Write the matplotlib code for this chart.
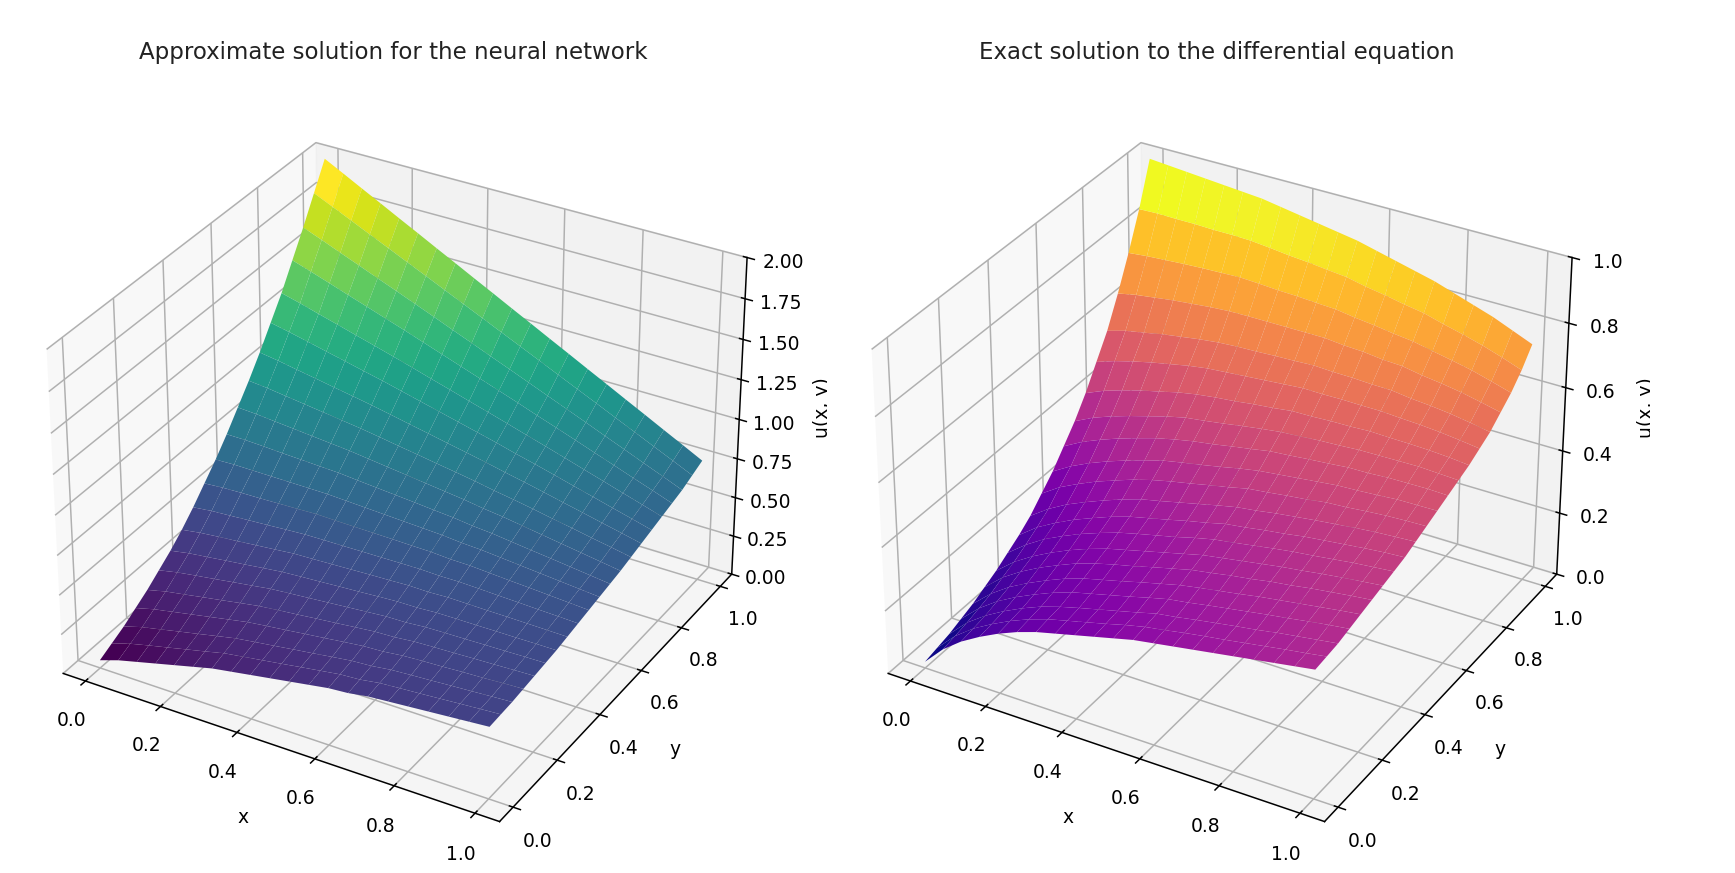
import numpy as np
import matplotlib
matplotlib.use("Agg")
import matplotlib.pyplot as plt
from matplotlib.transforms import Bbox

x_vals = [0.0, 0.05, 0.1, 0.15, 0.2, 0.25, 0.3, 0.35, 0.4, 0.45, 0.5, 0.55, 0.6, 0.65, 0.7, 0.75, 0.8, 0.85, 0.9, 0.95, 1.0]
y_vals = [0.0, 0.05, 0.1, 0.15, 0.2, 0.25, 0.3, 0.35, 0.4, 0.45, 0.5, 0.55, 0.6, 0.65, 0.7, 0.75, 0.8, 0.85, 0.9, 0.95, 1.0]

approx_u = [
    [.05, .09, .12, .15, .18, .21, .24, .26, .28, .30, .32, .34, .36, .37, .39, .40, .41, .42, .43, .44, .45],
    [.09, .127, .156, .183, .211, .238, .267, .285, .303, .321, .34, .358, .376, .384, .403, .412, .42, .429, .438, .447, .455],
    [.13, .165, .19, .216, .241, .267, .292, .309, .325, .342, .358, .375, .391, .399, .415, .423, .43, .438, .445, .453, .46],
    [.18, .212, .235, .258, .281, .304, .327, .342, .356, .371, .385, .40, .414, .42, .434, .441, .446, .453, .458, .465, .47],
    [.23, .259, .279, .30, .32, .341, .361, .374, .386, .399, .411, .424, .436, .441, .453, .458, .462, .467, .471, .476, .48],
    [.29, .315, .333, .35, .368, .385, .403, .413, .423, .433, .443, .453, .463, .465, .475, .478, .48, .483, .485, .488, .49],
    [.35, .372, .386, .401, .415, .43, .444, .452, .459, .467, .474, .482, .489, .49, .497, .498, .498, .499, .499, .50, .50],
    [.42, .438, .45, .46, .472, .483, .495, .499, .504, .509, .514, .518, .523, .521, .526, .524, .522, .521, .519, .517, .515],
    [.50, .514, .521, .529, .536, .544, .551, .553, .554, .556, .557, .559, .56, .556, .557, .553, .548, .544, .539, .535, .53],
    [.59, .599, .603, .605, .609, .612, .616, .613, .611, .609, .607, .604, .602, .594, .592, .584, .576, .569, .561, .553, .545],
    [.68, .684, .683, .682, .681, .68, .679, .673, .667, .661, .655, .649, .643, .632, .626, .615, .604, .593, .582, .571, .56],
    [.78, .779, .774, .767, .762, .756, .751, .74, .73, .72, .71, .699, .689, .674, .664, .649, .634, .62, .605, .59, .575],
    [.89, .883, .872, .861, .85, .839, .828, .813, .798, .783, .768, .753, .738, .719, .704, .685, .666, .647, .628, .609, .59],
    [1.0, .988, .972, .956, .94, .924, .908, .889, .869, .85, .83, .811, .791, .768, .748, .726, .702, .68, .656, .634, .61],
    [1.12, 1.102, 1.08, 1.059, 1.037, 1.016, .994, .97, .945, .921, .896, .872, .847, .82, .795, .768, .74, .713, .685, .658, .63],
    [1.25, 1.225, 1.198, 1.17, 1.143, 1.115, 1.088, 1.058, 1.028, .998, .968, .938, .908, .875, .845, .813, .78, .748, .715, .683, .65],
    [1.38, 1.349, 1.315, 1.282, 1.248, 1.215, 1.181, 1.146, 1.11, 1.075, 1.039, 1.004, .968, .931, .895, .858, .82, .783, .745, .708, .67],
    [1.53, 1.491, 1.451, 1.41, 1.37, 1.329, 1.289, 1.247, 1.205, 1.163, 1.121, 1.079, 1.037, .993, .951, .908, .864, .821, .777, .734, .69],
    [1.68, 1.634, 1.586, 1.539, 1.491, 1.444, 1.396, 1.348, 1.299, 1.251, 1.202, 1.154, 1.105, 1.056, 1.007, .958, .908, .859, .809, .76, .71],
    [1.84, 1.786, 1.732, 1.677, 1.623, 1.568, 1.514, 1.459, 1.404, 1.349, 1.294, 1.239, 1.184, 1.128, 1.073, 1.018, .962, .907, .851, .796, .74],
    [2.0, 1.939, 1.877, 1.816, 1.754, 1.693, 1.631, 1.57, 1.508, 1.447, 1.385, 1.324, 1.262, 1.201, 1.139, 1.078, 1.016, .955, .893, .832, .77],
]
exact_u = [
    [.02, .08, .125, .16, .19, .215, .235, .25, .265, .28, .295, .31, .32, .33, .34, .35, .36, .37, .38, .39, .40],
    [.03, .088, .132, .166, .196, .221, .241, .256, .271, .286, .302, .316, .326, .337, .347, .356, .366, .376, .386, .395, .405],
    [.04, .097, .139, .173, .202, .227, .246, .262, .277, .292, .307, .323, .332, .343, .353, .363, .372, .383, .392, .401, .41],
    [.055, .109, .151, .184, .212, .237, .258, .273, .288, .303, .319, .334, .343, .354, .364, .374, .384, .393, .403, .412, .42],
    [.07, .122, .163, .195, .223, .248, .268, .283, .298, .314, .329, .344, .355, .365, .375, .386, .395, .404, .413, .422, .43],
    [.09, .141, .179, .211, .238, .263, .282, .298, .312, .328, .343, .358, .368, .379, .388, .399, .407, .417, .425, .433, .44],
    [.11, .158, .195, .226, .253, .276, .296, .311, .326, .341, .356, .371, .381, .391, .401, .411, .419, .428, .436, .443, .45],
    [.135, .18, .217, .246, .272, .294, .314, .329, .343, .357, .373, .387, .396, .406, .416, .425, .432, .44, .448, .454, .46],
    [.16, .204, .237, .266, .29, .313, .332, .346, .36, .375, .388, .403, .411, .421, .429, .439, .446, .453, .46, .466, .47],
    [.19, .231, .264, .29, .314, .336, .355, .368, .382, .396, .41, .423, .431, .441, .449, .457, .464, .471, .477, .481, .485],
    [.23, .269, .298, .324, .346, .367, .384, .398, .41, .423, .435, .449, .456, .464, .471, .48, .484, .49, .495, .498, .50],
    [.27, .305, .333, .357, .378, .397, .414, .426, .437, .449, .462, .473, .48, .487, .494, .501, .504, .508, .513, .514, .515],
    [.32, .352, .377, .399, .418, .436, .45, .462, .471, .482, .492, .503, .508, .514, .519, .525, .526, .53, .531, .532, .53],
    [.37, .399, .421, .44, .457, .474, .488, .496, .505, .515, .524, .532, .536, .541, .544, .548, .549, .55, .551, .548, .545],
    [.43, .455, .474, .491, .505, .52, .531, .539, .545, .553, .559, .567, .568, .571, .572, .575, .573, .572, .57, .566, .56],
    [.50, .52, .536, .55, .562, .574, .583, .588, .593, .598, .603, .608, .607, .608, .607, .607, .603, .60, .595, .588, .58],
    [.57, .587, .598, .61, .619, .628, .635, .639, .641, .644, .646, .649, .646, .645, .642, .641, .633, .628, .621, .611, .60],
    [.66, .672, .68, .688, .694, .70, .704, .705, .705, .705, .705, .705, .699, .696, .689, .686, .675, .667, .657, .644, .63],
    [.76, .766, .77, .774, .777, .779, .781, .778, .774, .772, .768, .765, .756, .749, .74, .733, .72, .708, .695, .678, .66],
    [.87, .872, .871, .871, .869, .869, .867, .861, .854, .849, .842, .836, .823, .813, .801, .791, .774, .759, .742, .722, .70],
    [1.0, .995, .99, .985, .98, .975, .97, .96, .95, .94, .93, .92, .905, .89, .875, .86, .84, .82, .80, .775, .75],
]
titles = ["Approximate solution for the neural network",
          "Exact solution to the differential equation"]

DPI = 135
W, H = 1735, 873
fig = plt.figure(figsize=(W / DPI, H / DPI), dpi=DPI)

def panel(rect, Z, cmap, zmax, zticks, zfmt, title, tx, lx, cut):
    ax = fig.add_axes(rect, projection="3d")
    X, Y = np.meshgrid(x_vals, y_vals)
    ax.plot_surface(X, Y, np.array(Z), cmap=cmap, rstride=1, cstride=1)
    ax.view_init(elev=31.5, azim=-60)
    ax.set_xlim(-0.06, 1.06)
    ax.set_ylim(-0.06, 1.06)
    ax.set_zlim(0, zmax)
    ax.set_xticks([0, .2, .4, .6, .8, 1.0])
    ax.set_yticks([0, .2, .4, .6, .8, 1.0])
    ax.set_zticks(zticks)
    ax.set_zticklabels([zfmt % t for t in zticks])
    ax.set_xlabel("x", labelpad=6)
    ax.set_ylabel("y", labelpad=6)
    fig.text(tx / W, 1 - 52 / H, title, ha="center", va="center", fontsize=12.2, color="#222222")
    lab = fig.text(lx / W, 1 - 408 / H, "u(x, y)", rotation=90, ha="left", va="center")
    lab.set_clip_box(Bbox([[0, 0], [cut, H]]))
    lab.set_clip_on(True)
    return ax

S = 778
def rect(cx, cy):
    return [(cx - S / 2) / W, 1 - (cy + S / 2) / H, S / W, S / H]

panel(rect(393, 477), approx_u, "viridis", 2.0, [0, .25, .5, .75, 1, 1.25, 1.5, 1.75, 2.0], "%.2f", titles[0], 393, 813, 827)
panel(rect(1218, 477), exact_u, "plasma", 1.0, [0, .2, .4, .6, .8, 1.0], "%.1f", titles[1], 1217, 1637, 1650)

fig.savefig("out.png", dpi=DPI)
